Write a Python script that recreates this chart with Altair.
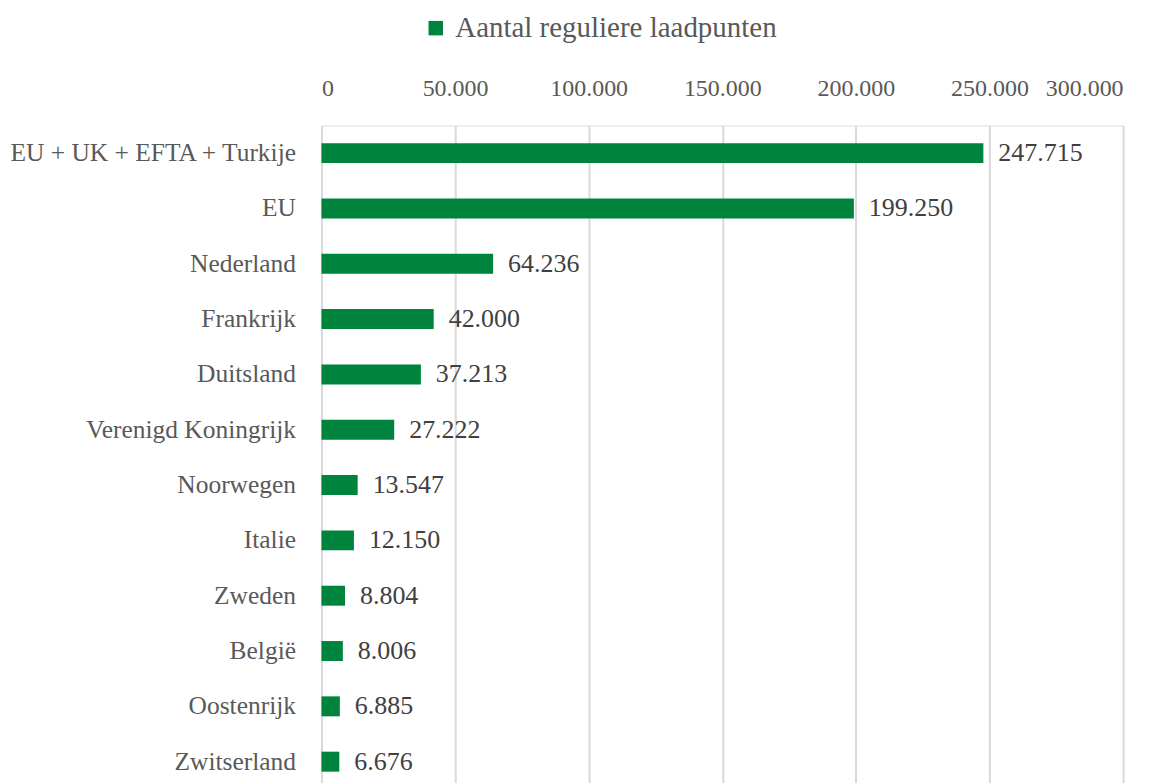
import altair as alt
import pandas as pd

countries = ["EU + UK + EFTA + Turkije", "EU", "Nederland", "Frankrijk", "Duitsland",
             "Verenigd Koningrijk", "Noorwegen", "Italie", "Zweden", "België",
             "Oostenrijk", "Zwitserland"]
values = [247715, 199250, 64236, 42000, 37213, 27222, 13547, 12150, 8804, 8006, 6885, 6676]
series = ["Aantal reguliere laadpunten"] * len(countries)

def nl(v):
    return f"{v:,}".replace(",", ".")

df = pd.DataFrame({"land": countries, "waarde": values, "reeks": series,
                   "label": [nl(v) for v in values]})

FONT = "Liberation Serif"
GREEN = "#00843D"

y = alt.Y("land:N", sort=countries, title=None,
          axis=alt.Axis(labelFontSize=25.5, labelColor="#595959", labelFont=FONT,
                        labelPadding=26, ticks=False, domain=False, grid=False,
                        labelLimit=400),
          scale=alt.Scale(paddingInner=0.64, paddingOuter=0.32))

x = alt.X("waarde:Q", title=None,
          scale=alt.Scale(domain=[0, 300000], nice=False),
          axis=alt.Axis(orient="top", values=[0, 50000, 100000, 150000, 200000, 250000, 300000],
                        labelExpr="datum.value == 0 ? '0' : format(datum.value/1000, 'd') + '.000'",
                        labelFontSize=24, labelColor="#595959", labelFont=FONT,
                        labelPadding=25, ticks=False, domain=False,
                        grid=True, gridColor="#d9d9d9", gridWidth=2))

bars = alt.Chart(df).mark_bar(size=20).encode(
    x=x, y=y,
    color=alt.Color("reeks:N", scale=alt.Scale(range=[GREEN]), title=None,
                    legend=alt.Legend(orient="none", legendX=100, legendY=-112,
                                      symbolType="square", symbolSize=210,
                                      symbolStrokeWidth=0, symbolOpacity=1,
                                      labelFontSize=29, labelColor="#595959",
                                      labelFont=FONT, labelLimit=500, labelOffset=5))
)

labels = alt.Chart(df).mark_text(align="left", baseline="middle", dx=15, fontSize=26,
                                 font=FONT, color="#404040").encode(
    x="waarde:Q", y=alt.Y("land:N", sort=countries), text="label:N"
)

chart = (bars + labels).properties(
    width=803, height=665,
    autosize=alt.AutoSizeParams(type="none"),
    padding={"left": 314, "top": 117, "right": 45, "bottom": 0}
).configure_view(stroke=None).configure(background="white")

chart.save("out.html", embed_options={"renderer": "svg", "actions": False})
